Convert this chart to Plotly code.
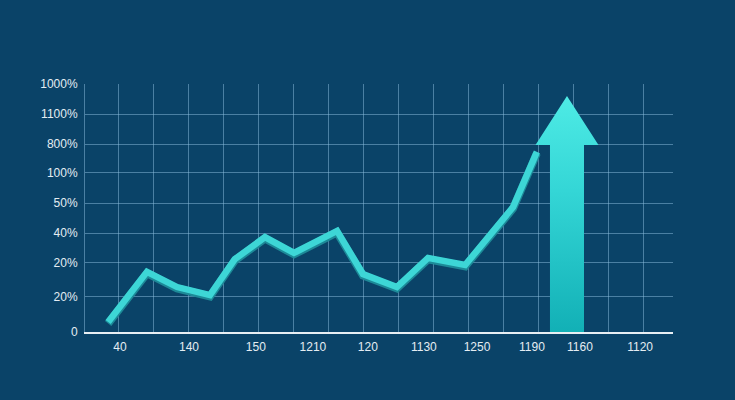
import plotly.graph_objects as go

# ---- data ----
line_x = [-0.31, 0.80, 1.66, 2.60, 3.31, 4.17, 5.00, 6.23, 6.97, 7.94, 8.83, 9.89, 11.26, 11.94]
line_y = [0.32, 1.94, 1.45, 1.19, 2.35, 3.06, 2.55, 3.26, 1.87, 1.45, 2.39, 2.16, 4.03, 5.81]

arrow_x = 12.8          # arrow centre
arrow_shaft_top = 6.03  # where the head starts
arrow_tip = 7.61        # tip of the arrow

x_tick_labels = ['40', '140', '150', '1210', '120', '1130', '1250', '1190', '1160', '1120']
y_tick_labels = ['0', '20%', '20%', '40%', '50%', '100%', '800%', '1100%', '1000%']

# ---- layout / style ----
x_tick_pos = [0.03, 2.0, 3.91, 5.54, 7.11, 8.71, 10.23, 11.8, 13.17, 14.89]
y_tick_pos = [0, 1.13, 2.23, 3.19, 4.16, 5.13, 6.06, 7.03, 8.0]
shaft_half = 0.486
head_half = 0.9

BG = '#0a4368'
GRID = 'rgba(140,190,222,0.5)'
TXT = '#e4edf3'

# arrow polygon derived from arrow data
ax = [arrow_x - shaft_half, arrow_x - shaft_half, arrow_x - head_half, arrow_x,
      arrow_x + head_half, arrow_x + shaft_half, arrow_x + shaft_half, arrow_x - shaft_half]
ay = [0, arrow_shaft_top, arrow_shaft_top, arrow_tip, arrow_shaft_top, arrow_shaft_top, 0, 0]

fig = go.Figure()

# line shadow
fig.add_trace(go.Scatter(
    x=line_x, y=[v - 0.045 for v in line_y], mode='lines',
    line=dict(color='#1d8a98', width=8), hoverinfo='skip', showlegend=False))
# main line
fig.add_trace(go.Scatter(
    x=line_x, y=line_y, mode='lines',
    line=dict(color='#3dd6d6', width=6.5), hoverinfo='skip', showlegend=False))

# arrow
fig.add_trace(go.Scatter(
    x=ax, y=ay, mode='lines', fill='toself',
    line=dict(width=0, color='rgba(0,0,0,0)'),
    fillgradient=dict(type='vertical',
                      colorscale=[[0, '#12b0b6'], [0.6, '#34d6d6'], [1, '#4eebe5']]),
    hoverinfo='skip', showlegend=False))

fig.update_layout(
    width=735, height=400,
    margin=dict(l=85, r=62, t=84, b=68),
    paper_bgcolor=BG, plot_bgcolor=BG,
    font=dict(family='Liberation Sans, Arial, sans-serif', size=12, color=TXT),
    xaxis=dict(
        range=[-0.971, 15.829],
        tickmode='array', tickvals=x_tick_pos, ticktext=x_tick_labels,
        showgrid=False, zeroline=False,
        ticks='outside', ticklen=3, tickcolor='rgba(0,0,0,0)',
        showline=True, linecolor='#e8eff4', linewidth=2,
        minor=dict(tickmode='linear', tick0=0, dtick=1, showgrid=True,
                   gridcolor=GRID, gridwidth=1, ticks=''),
        tickfont=dict(size=12, color=TXT),
    ),
    yaxis=dict(
        range=[0, 8.0],
        tickmode='array', tickvals=y_tick_pos, ticktext=y_tick_labels,
        showgrid=True, gridcolor=GRID, gridwidth=1, zeroline=False,
        ticks='outside', ticklen=4, tickcolor='rgba(0,0,0,0)',
        showline=True, linecolor=GRID, linewidth=1,
        tickfont=dict(size=12, color=TXT),
    ),
    hovermode=False,
)

fig.write_html('out.html',
               config={'displayModeBar': False},
               post_script="document.body.style.margin='0';"
                           "document.body.style.background='" + BG + "';")
